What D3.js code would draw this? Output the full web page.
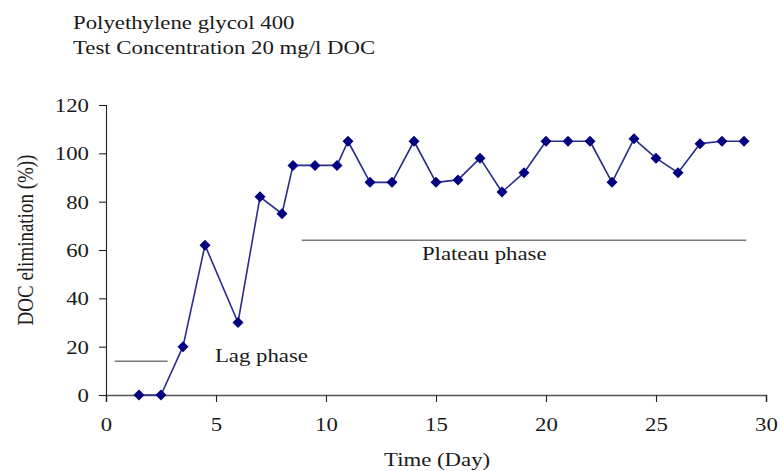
<!DOCTYPE html>
<html>
<head>
<meta charset="utf-8">
<script src="https://cdn.jsdelivr.net/npm/d3@7"></script>
<style>
  html, body { margin: 0; padding: 0; background: #fff; }
  svg { display: block; }
  text { font-family: "Liberation Serif", "Times New Roman", serif; fill: #1a1a1a; }
</style>
</head>
<body>
<svg id="chart" width="780" height="471"></svg>
<script>
// Degradation test of polyethylene glycol 400: DOC elimination over time
const titleLines = ["Polyethylene glycol 400", "Test Concentration 20 mg/l DOC"];
const days = [1.5, 2.5, 3.5, 4.5, 6, 7, 8, 8.5, 9.5, 10.5, 11,
              12, 13, 14, 15, 16, 17, 18, 19, 20, 21, 22, 23, 24, 25, 26, 27, 28, 29];
const elimination = [0, 0, 20, 62, 30, 82, 75, 95, 95, 95, 105,
                     88, 88, 105, 88, 89, 98, 84, 92, 105, 105, 105, 88, 106, 98, 92, 104, 105, 105];
const xTicks = [0, 5, 10, 15, 20, 25, 30];
const yTicks = [0, 20, 40, 60, 80, 100, 120];
const phaseNames = ["Lag phase", "Plateau phase"];
const phaseStart = [0.4, 8.9];
const phaseEnd = [2.8, 29.1];
const phaseLevel = [14, 64];

const FONT = 19, STRETCH = 1.2; // serif text, slightly widened

const svg = d3.select("#chart");
const x = d3.scaleLinear().domain([0, 30]).range([106, 766]);
const y = d3.scaleLinear().domain([0, 120]).range([395, 105]);

// helper: place a widened text at (px, py)
function label(str, px, py, anchor, rotate) {
  return svg.append("text")
    .attr("transform", `translate(${px},${py}) scale(${STRETCH},1)` + (rotate ? ` rotate(${rotate})` : ""))
    .attr("text-anchor", anchor)
    .style("font-size", FONT + "px")
    .text(str);
}

// title
titleLines.forEach((t, i) => label(t, 73, 29 + i * 24.5, "start"));

// axes
const xAxis = svg.append("g")
  .attr("transform", `translate(0,${y(0)})`)
  .call(d3.axisBottom(x).tickValues(xTicks).tickSize(7).tickSizeOuter(7).tickFormat(d3.format("d")));
const yAxis = svg.append("g")
  .attr("transform", `translate(${x(0)},0)`)
  .call(d3.axisLeft(y).tickValues(yTicks).tickSize(7).tickSizeOuter(7).tickFormat(d3.format("d")));

[xAxis, yAxis].forEach(g => {
  g.selectAll("path.domain").attr("stroke", "#222").attr("stroke-width", 1.1);
  g.selectAll(".tick line").attr("stroke", "#222").attr("stroke-width", 1.1);
  g.selectAll(".tick text")
    .style("font-family", '"Liberation Serif", serif')
    .style("font-size", FONT + "px")
    .attr("fill", "#1a1a1a");
});
xAxis.select("path.domain").attr("stroke", "#555").attr("stroke-width", 1.5);
xAxis.selectAll(".tick text")
  .attr("y", 0).attr("dy", 0)
  .attr("transform", `translate(0,35.5) scale(${STRETCH},1)`);
yAxis.selectAll(".tick text")
  .attr("x", 0).attr("dy", "0.34em")
  .attr("transform", `translate(-17,0) scale(${STRETCH},1)`);

// axis titles
label("Time (Day)", x(15.05), 465.5, "middle");
label("DOC elimination (%))", 33, 240, "middle", -90);

// phase markers
const phases = phaseNames.map((n, i) => ({ name: n, x0: phaseStart[i], x1: phaseEnd[i], v: phaseLevel[i] }));
svg.selectAll("line.phase").data(phases).join("line")
  .attr("class", "phase")
  .attr("x1", d => x(d.x0)).attr("x2", d => x(d.x1))
  .attr("y1", d => y(d.v)).attr("y2", d => y(d.v))
  .attr("stroke", "#7a7a7a").attr("stroke-width", 1.5);
label(phaseNames[0], x(4.95), y(13.7), "start");
label(phaseNames[1], x(14.36), y(55.7), "start");

// series
const pts = days.map((d, i) => ({ d, v: elimination[i] }));
svg.append("path")
  .datum(pts)
  .attr("fill", "none")
  .attr("stroke", "#2a2a90")
  .attr("stroke-width", 1.6)
  .attr("stroke-linejoin", "round")
  .attr("d", d3.line().x(p => x(p.d)).y(p => y(p.v)));

const diamond = d3.symbol().type(d3.symbolDiamond2).size(78);
svg.selectAll("path.pt").data(pts).join("path")
  .attr("class", "pt")
  .attr("transform", p => `translate(${x(p.d)},${y(p.v)})`)
  .attr("d", diamond)
  .attr("fill", "#000080");
</script>
</body>
</html>
